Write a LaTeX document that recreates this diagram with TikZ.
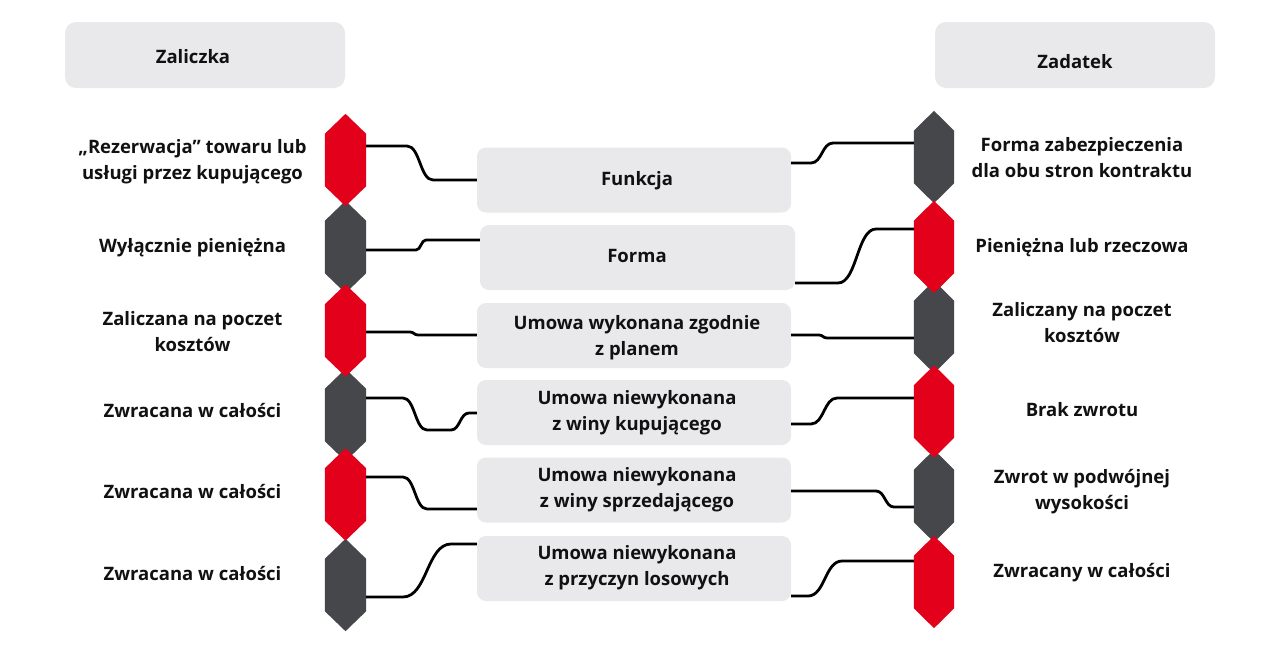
\documentclass[tikz,border=0pt]{standalone}
\usepackage{fontspec}
\setmainfont{Open Sans}
\usetikzlibrary{calc}
\definecolor{hexred}{HTML}{E2001A}
\definecolor{hexdark}{HTML}{46474A}
\definecolor{boxgray}{HTML}{E9E9EB}
\definecolor{txt}{HTML}{111111}
\newcommand{\hexfill}[2]{%
  \fill[#2] (#1.north) -- ($(#1.north east)+(0,20)$) -- ($(#1.south east)+(0,-20)$) -- (#1.south) -- ($(#1.south west)+(0,-20)$) -- ($(#1.north west)+(0,20)$) -- cycle;}
\begin{document}
\begin{tikzpicture}[x=1pt,y=-1pt,
  hexnode/.style={rectangle,inner sep=0pt,minimum width=41pt,minimum height=92pt},
  graybox/.style={rectangle,rounded corners=9pt,fill=boxgray,inner sep=0pt,minimum width=314pt,minimum height=65pt},
  headbox/.style={rectangle,rounded corners=11pt,fill=boxgray,inner sep=0pt,minimum width=280pt,minimum height=66pt},
  lbl/.style={font=\fontsize{18.5}{26}\selectfont\bfseries,text=txt,align=center,inner sep=0pt},
  conn/.style={line width=2.8pt,draw=black}]
\useasboundingbox (0,0) rectangle (1280,646);
\fill[white] (0,0) rectangle (1280,646);

% headers
\node[headbox] (H1) at (205,55) {};
\node[lbl] (H1t) at (193,57) {Zaliczka};
\node[headbox] (H2) at (1075,55) {};
\node[lbl] (H2t) at (1075,62) {Zadatek};

% center boxes
\node[graybox] (B1) at (634,180) {};
\node[graybox,minimum width=315pt] (B2) at (637.5,257.5) {};
\node[graybox] (B3) at (634,335.5) {};
\node[graybox] (B4) at (634,412.5) {};
\node[graybox] (B5) at (634,490) {};
\node[graybox] (B6) at (634,568.5) {};
\node[lbl] at (637,181) {Funkcja};
\node[lbl] at (637,256) {Forma};
\node[lbl] at (637,338) {Umowa wykonana zgodnie\\z planem};
\node[lbl] at (637,413) {Umowa niewykonana\\z winy kupującego};
\node[lbl] at (637,490) {Umowa niewykonana\\z winy sprzedającego};
\node[lbl] at (637,568) {Umowa niewykonana\\z przyczyn losowych};

% hexagon nodes
\node[hexnode] (L1) at (345.5,160) {};
\node[hexnode] (L2) at (345.5,247) {};
\node[hexnode] (L3) at (345.5,330.5) {};
\node[hexnode] (L4) at (345.5,415) {};
\node[hexnode] (L5) at (345.5,494.5) {};
\node[hexnode] (L6) at (345.5,585) {};
\node[hexnode,minimum width=40pt] (R1) at (934,157) {};
\node[hexnode,minimum width=40pt] (R2) at (934,247) {};
\node[hexnode,minimum width=40pt] (R3) at (934,327) {};
\node[hexnode,minimum width=40pt] (R4) at (934,411.5) {};
\node[hexnode,minimum width=40pt] (R5) at (934,496) {};
\node[hexnode,minimum width=40pt] (R6) at (934,582) {};

\hexfill{L2}{hexdark}
\hexfill{L4}{hexdark}
\hexfill{L6}{hexdark}
\hexfill{L1}{hexred}
\hexfill{L3}{hexred}
\hexfill{L5}{hexred}
\hexfill{R1}{hexdark}
\hexfill{R3}{hexdark}
\hexfill{R5}{hexdark}
\hexfill{R2}{hexred}
\hexfill{R4}{hexred}
\hexfill{R6}{hexred}

% left labels
\node[lbl] at (192.5,162) {„Rezerwacja” towaru lub\\usługi przez kupującego};
\node[lbl] at (192.5,248) {Wyłącznie pieniężna};
\node[lbl] at (192.5,332) {Zaliczana na poczet\\kosztów};
\node[lbl] at (192.5,410) {Zwracana w całości};
\node[lbl] at (192.5,491) {Zwracana w całości};
\node[lbl] at (192.5,573) {Zwracana w całości};
% right labels
\node[lbl] at (1082,158) {Forma zabezpieczenia\\dla obu stron kontraktu};
\node[lbl] at (1082,248) {Pieniężna lub rzeczowa};
\node[lbl] at (1082,323) {Zaliczany na poczet\\kosztów};
\node[lbl] at (1082,410) {Brak zwrotu};
\node[lbl] at (1082,492) {Zwrot w podwójnej\\wysokości};
\node[lbl] at (1082,573) {Zwracany w całości};

% left connectors
\draw[conn] (L1.east |- 0,146) -- (407,146) .. controls (420,146) and (420,180) .. (433,180) -- (B1.west |- 0,180);
\draw[conn] (L2.east |- 0,250) -- (416,250) .. controls (421,250) and (421,240) .. (426,240) -- (B2.west |- 0,240);
\draw[conn] (L3.east |- 0,332) -- (410,332) .. controls (414,332) and (414,335) .. (418,335) -- (B3.west |- 0,335);
\draw[conn] (L4.east |- 0,398) -- (403,398) .. controls (415,398) and (415,430) .. (427,430) -- (451,430) .. controls (460,430) and (460,413) .. (469,413) -- (B4.west |- 0,413);
\draw[conn] (L5.east |- 0,477) -- (403,477) .. controls (415,477) and (415,509) .. (427,509) -- (B5.west |- 0,509);
\draw[conn] (L6.east |- 0,597) -- (403,597) .. controls (427,597) and (427,544) .. (451,544) -- (B6.west |- 0,544);

% right connectors
\draw[conn] (B1.east |- 0,163) -- (811,163) .. controls (822,163) and (822,143) .. (833,143) -- (R1.west |- 0,143);
\draw[conn] (B2.east |- 0,283) -- (838,283) .. controls (857,283) and (857,229) .. (876,229) -- (R2.west |- 0,229);
\draw[conn] (B3.east |- 0,335) -- (819,335) .. controls (823,335) and (823,338) .. (827,338) -- (R3.west |- 0,338);
\draw[conn] (B4.east |- 0,424) -- (811,424) .. controls (824,424) and (824,398) .. (837,398) -- (R4.west |- 0,398);
\draw[conn] (B5.east |- 0,491) -- (876,491) .. controls (885,491) and (885,507) .. (894,507) -- (R5.west |- 0,507);
\draw[conn] (B6.east |- 0,596) -- (808,596) .. controls (825,596) and (825,561) .. (842,561) -- (R6.west |- 0,561);
\end{tikzpicture}
\end{document}
